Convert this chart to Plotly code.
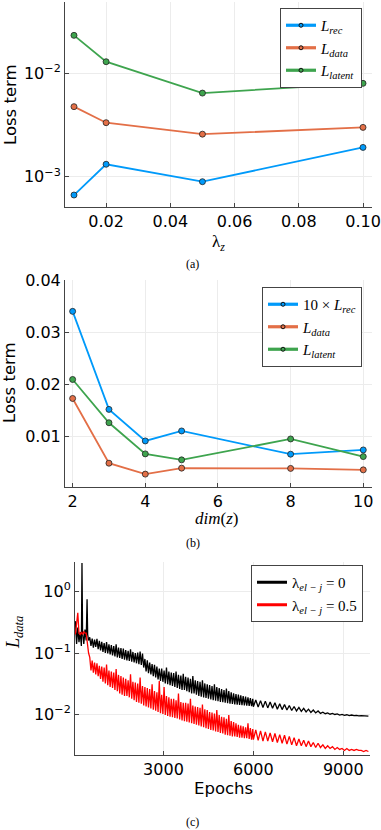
import plotly.graph_objects as go

# ---------------- data: panel (a) ----------------
lambda_z = [0.01, 0.02, 0.05, 0.10]
a_rec = [6.65e-4, 1.32e-3, 8.95e-4, 1.92e-3]
a_data = [4.76e-3, 3.33e-3, 2.58e-3, 3.00e-3]
a_latent = [0.0233, 0.01295, 6.44e-3, 8.0e-3]
a_xtickvals = [0.02, 0.04, 0.06, 0.08, 0.10]
a_xticktext = ["0.02", "0.04", "0.06", "0.08", "0.10"]
a_ytickvals = [1e-3, 1e-2]
a_yticktext = ["10<sup>−3</sup>", "10<sup>−2</sup>"]

# ---------------- data: panel (b) ----------------
dim_z = [2, 3, 4, 5, 8, 10]
b_rec10 = [0.0341, 0.01525, 0.00918, 0.0111, 0.00663, 0.00745]
b_data = [0.01735, 0.0049, 0.0028, 0.00395, 0.0039, 0.00362]
b_latent = [0.0210, 0.01268, 0.00669, 0.00554, 0.00956, 0.00617]
b_xtickvals = [2, 4, 6, 8, 10]
b_ytickvals = [0.01, 0.02, 0.03, 0.04]
b_yticktext = ["0.01", "0.02", "0.03", "0.04"]

# ---------------- data: panel (c) ----------------
epochs = ([60, 100, 140, 180, 220, 260, 280, 300, 340, 380, 420, 450, 470, 500]
          + list(range(540, 6000, 40)) + list(range(6000, 9900, 80)))
loss_l0 = [
    # 60 .. 500
    0.33, 0.14, 0.26, 0.15, 0.22, 0.13, 2.9, 0.21, 0.14, 0.24, 0.16, 0.75, 0.20, 0.16,
    # 540 .. 5980 (step 40)
    0.18, 0.13, 0.172, 0.122, 0.165, 0.126, 0.17, 0.115, 0.158, 0.11,
    0.152, 0.104, 0.145, 0.1, 0.15, 0.098, 0.138, 0.095, 0.135, 0.091,
    0.13, 0.088, 0.138, 0.085, 0.122, 0.083, 0.12, 0.08, 0.118, 0.078,
    0.112, 0.076, 0.108, 0.074, 0.115, 0.072, 0.104, 0.07, 0.1, 0.068,
    0.102, 0.066, 0.106, 0.064, 0.098, 0.058, 0.08, 0.05, 0.076, 0.047,
    0.07, 0.045, 0.066, 0.042, 0.064, 0.04, 0.06, 0.037, 0.056, 0.035,
    0.056, 0.034, 0.052, 0.032, 0.058, 0.031, 0.05, 0.03, 0.048, 0.029,
    0.047, 0.028, 0.05, 0.027, 0.044, 0.026, 0.043, 0.025, 0.046, 0.025,
    0.041, 0.024, 0.04, 0.023, 0.038, 0.022, 0.042, 0.022, 0.036, 0.021,
    0.035, 0.02, 0.034, 0.0195, 0.036, 0.019, 0.032, 0.0185, 0.031, 0.018,
    0.03, 0.0175, 0.029, 0.017, 0.031, 0.0168, 0.028, 0.0165, 0.027, 0.016,
    0.026, 0.0158, 0.025, 0.0155, 0.0265, 0.0152, 0.024, 0.015, 0.023, 0.0148,
    0.022, 0.0146, 0.0215, 0.0144, 0.021, 0.0143, 0.0205, 0.0142, 0.02, 0.014,
    0.0195, 0.0139, 0.019, 0.0138, 0.0185, 0.0136, 0.018,
    # 6000 .. 9840 (step 80)
    0.0134, 0.0172, 0.0132, 0.0168, 0.013, 0.0165, 0.0128, 0.016, 0.0126, 0.0155,
    0.0122, 0.015, 0.012, 0.0145, 0.0118, 0.014, 0.0116, 0.0135, 0.0114, 0.013,
    0.0112, 0.0126, 0.011, 0.0122, 0.0108, 0.0118, 0.0106, 0.0114, 0.0104, 0.0109,
    0.0103, 0.0106, 0.0101, 0.0104, 0.01, 0.0102, 0.0098, 0.01, 0.0097, 0.0099,
    0.0096, 0.0098, 0.0096, 0.0097, 0.0095, 0.0096, 0.0095, 0.0095, 0.0094,
]
loss_l05 = [
    # 60 .. 500
    0.20, 0.30, 0.45, 0.21, 0.20, 0.22, 0.21, 0.20, 0.22, 0.21, 0.21, 0.16, 0.12, 0.10,
    # 540 .. 5980 (step 40)
    0.085, 0.052, 0.075, 0.048, 0.07, 0.045, 0.068, 0.042, 0.062, 0.038,
    0.06, 0.034, 0.058, 0.032, 0.065, 0.03, 0.052, 0.028, 0.05, 0.027,
    0.048, 0.025, 0.055, 0.024, 0.044, 0.022, 0.042, 0.021, 0.04, 0.02,
    0.038, 0.02, 0.036, 0.019, 0.045, 0.018, 0.034, 0.017, 0.033, 0.016,
    0.032, 0.0155, 0.04, 0.015, 0.029, 0.014, 0.028, 0.0135, 0.027, 0.013,
    0.026, 0.0125, 0.031, 0.012, 0.024, 0.0115, 0.023, 0.011, 0.035, 0.0105,
    0.021, 0.0102, 0.028, 0.0098, 0.02, 0.0095, 0.019, 0.0092, 0.018, 0.009,
    0.018, 0.0088, 0.017, 0.0086, 0.022, 0.0083, 0.016, 0.008, 0.0155, 0.0078,
    0.0155, 0.0076, 0.015, 0.0074, 0.018, 0.0072, 0.014, 0.007, 0.0135, 0.0068,
    0.0132, 0.0066, 0.0128, 0.0064, 0.0145, 0.0062, 0.0122, 0.006, 0.0118, 0.0058,
    0.011, 0.0056, 0.0108, 0.0055, 0.0104, 0.0053, 0.0118, 0.0052, 0.0098, 0.005,
    0.0092, 0.0049, 0.009, 0.0047, 0.0085, 0.0046, 0.0098, 0.0045, 0.0078, 0.0044,
    0.0075, 0.0044, 0.0072, 0.0043, 0.0068, 0.0042, 0.0066, 0.0042, 0.0064, 0.0041,
    0.0062, 0.0041, 0.0072, 0.004, 0.006, 0.0039, 0.0058,
    # 6000 .. 9840 (step 80)
    0.0039, 0.0056, 0.0038, 0.0054, 0.0037, 0.0052, 0.0037, 0.005, 0.0036, 0.0049,
    0.0035, 0.0047, 0.0034, 0.0046, 0.0033, 0.0044, 0.0032, 0.0042, 0.0031, 0.004,
    0.0031, 0.0038, 0.003, 0.0037, 0.003, 0.0035, 0.0029, 0.0034, 0.0029, 0.0032,
    0.0028, 0.0031, 0.0028, 0.003, 0.0027, 0.0029, 0.0027, 0.0028, 0.0026, 0.0028,
    0.0026, 0.0027, 0.0026, 0.0027, 0.0026, 0.0026, 0.0025, 0.0026, 0.0025,
]
c_xtickvals = [3000, 6000, 9000]
c_ytickvals = [1e-2, 1e-1, 1]
c_yticktext = ["10<sup>−2</sup>", "10<sup>−1</sup>", "10<sup>0</sup>"]

# ---------------- styling ----------------
W, H = 381, 830
BLUE, ORANGE, GREEN = "#009AFA", "#E36F47", "#3EA44E"
SANS = "DejaVu Sans"
SERIF = "Liberation Serif"
TICKFONT = dict(family=SANS, size=16, color="black")


def px_x(p):
    return p / W


def px_y(p):
    return 1 - p / H


def lm(x, y, name, color, xa, ya, leg):
    # plotted series (no legend entry) + legend-only entry with a thicker sample line
    real = go.Scatter(
        x=x, y=y, name=name, mode="lines+markers", xaxis=xa, yaxis=ya, legend=leg,
        showlegend=False,
        line=dict(color=color, width=1.8),
        marker=dict(color=color, size=6, line=dict(color="#222222", width=0.8)),
    )
    key = go.Scatter(
        x=[None], y=[None], name=name, mode="lines+markers", xaxis=xa, yaxis=ya, legend=leg,
        line=dict(color=color, width=3.2),
        marker=dict(color=color, size=4, line=dict(color="#111111", width=1)),
    )
    return [real, key]


def ln(x, y, name, color):
    real = go.Scatter(x=x, y=y, name=name, mode="lines", xaxis="x3", yaxis="y3",
                      legend="legend3", showlegend=False, line=dict(color=color, width=1.3))
    key = go.Scatter(x=[None], y=[None], name=name, mode="lines", xaxis="x3", yaxis="y3",
                     legend="legend3", line=dict(color=color, width=3))
    return [real, key]


fig = go.Figure()
fig.add_traces(lm(lambda_z, a_rec, "<i>L</i><sub><i>rec</i></sub>", BLUE, "x", "y", "legend"))
fig.add_traces(lm(lambda_z, a_data, "<i>L</i><sub><i>data</i></sub>", ORANGE, "x", "y", "legend"))
fig.add_traces(lm(lambda_z, a_latent, "<i>L</i><sub><i>latent</i></sub>", GREEN, "x", "y", "legend"))

fig.add_traces(lm(dim_z, b_rec10, "10 × <i>L</i><sub><i>rec</i></sub>", BLUE, "x2", "y2", "legend2"))
fig.add_traces(lm(dim_z, b_data, "<i>L</i><sub><i>data</i></sub>", ORANGE, "x2", "y2", "legend2"))
fig.add_traces(lm(dim_z, b_latent, "<i>L</i><sub><i>latent</i></sub>", GREEN, "x2", "y2", "legend2"))

fig.add_traces(ln(epochs, loss_l0, "λ<sub><i>el − j</i></sub> = 0", "black"))
fig.add_traces(ln(epochs, loss_l05, "λ<sub><i>el − j</i></sub> = 0.5", "red"))

axis_common = dict(
    showline=True, linecolor="#444444", linewidth=1, mirror=False, automargin=False,
    showgrid=True, gridcolor="#ececec", gridwidth=1, zeroline=False,
    ticks="inside", ticklen=4, tickcolor="#444444", tickfont=TICKFONT,
)

legend_common = dict(
    bgcolor="white", bordercolor="#444444", borderwidth=1,
    font=dict(family=SERIF, size=15, color="black"),
    itemwidth=30, xref="paper", yref="paper", xanchor="right", yanchor="top",
    tracegroupgap=0,
)

fig.update_layout(
    template="simple_white",
    width=W, height=H, margin=dict(l=0, r=0, t=0, b=0, autoexpand=False),
    paper_bgcolor="white", plot_bgcolor="white", showlegend=True,
    xaxis=dict(domain=[px_x(65), px_x(372)], range=[0.0072, 0.1028], anchor="y",
               tickvals=a_xtickvals, ticktext=a_xticktext, **axis_common),
    yaxis=dict(domain=[px_y(207), px_y(2)], type="log", range=[-3.293, -1.31], anchor="x",
               tickvals=a_ytickvals, ticktext=a_yticktext, **axis_common),
    xaxis2=dict(domain=[px_x(65), px_x(372)], range=[1.79, 10.24], anchor="y2",
                tickvals=b_xtickvals, **axis_common),
    yaxis2=dict(domain=[px_y(486.7), px_y(280)], range=[0.00038, 0.04013], anchor="x2",
                tickvals=b_ytickvals, ticktext=b_yticktext, **axis_common),
    xaxis3=dict(domain=[px_x(75), px_x(370)], range=[47, 9893], anchor="y3",
                tickvals=c_xtickvals, **axis_common),
    yaxis3=dict(domain=[px_y(755), px_y(561.7)], type="log", range=[-2.659, 0.485], anchor="x3",
                tickvals=c_ytickvals, ticktext=c_yticktext, **axis_common),
    legend=dict(x=px_x(362), y=px_y(8), **legend_common),
    legend2=dict(x=px_x(362), y=px_y(287), **legend_common),
    legend3=dict(x=px_x(363), y=px_y(565), **legend_common),
)

annots = [
    # axis titles
    dict(text="Loss term", x=px_x(10), y=px_y(105), textangle=-90,
         font=dict(family=SANS, size=16.5)),
    dict(text="Loss term", x=px_x(10), y=px_y(383), textangle=-90,
         font=dict(family=SANS, size=16.5)),
    dict(text="<i>L</i><sub><i>data</i></sub>", x=px_x(14), y=px_y(633), textangle=-90,
         font=dict(family=SERIF, size=18)),
    dict(text="λ<sub><i>z</i></sub>", x=px_x(218), y=px_y(243),
         font=dict(family=SERIF, size=17)),
    dict(text="<i>dim</i>(<i>z</i>)", x=px_x(217), y=px_y(518),
         font=dict(family=SERIF, size=17)),
    dict(text="Epochs", x=px_x(223), y=px_y(788),
         font=dict(family=SANS, size=16.5)),
    # captions
    dict(text="(a)", x=px_x(193), y=px_y(264), font=dict(family=SERIF, size=12)),
    dict(text="(b)", x=px_x(193), y=px_y(543), font=dict(family=SERIF, size=12)),
    dict(text="(c)", x=px_x(193), y=px_y(822), font=dict(family=SERIF, size=12)),
]
for a in annots:
    a.setdefault("xref", "paper")
    a.setdefault("yref", "paper")
    a.setdefault("showarrow", False)
    a.setdefault("xanchor", "center")
    a.setdefault("yanchor", "middle")
    a["font"].setdefault("color", "black")
fig.update_layout(annotations=annots)

fig.write_html("out.html", config={"displayModeBar": False},
               post_script="document.body.style.margin='0';document.body.style.padding='0';")
